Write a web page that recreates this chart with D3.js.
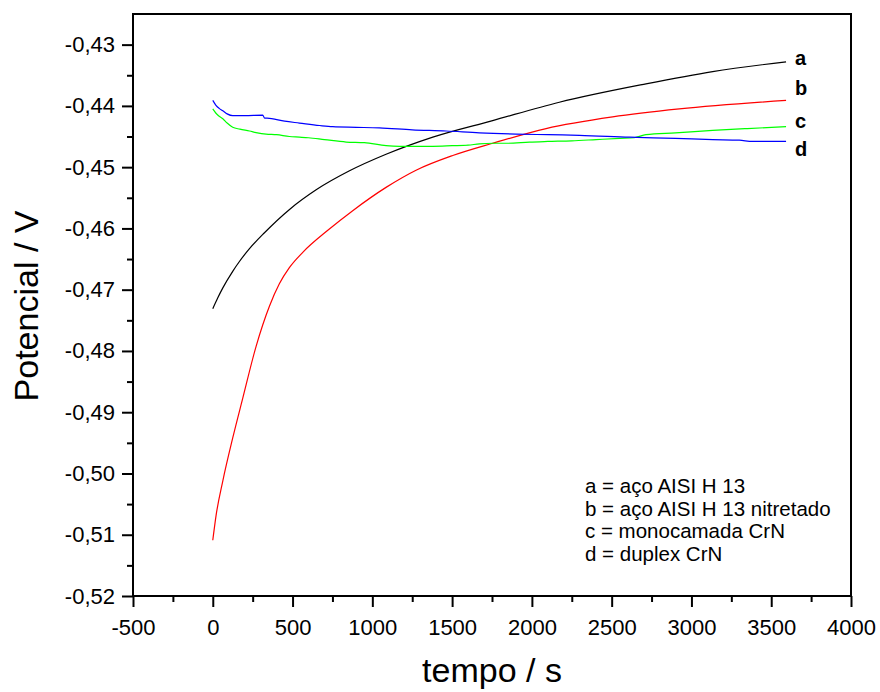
<!DOCTYPE html>
<html>
<head>
<meta charset="utf-8">
<script src="https://cdn.jsdelivr.net/npm/d3@7"></script>
<style>
  body { margin: 0; background: #fff; }
  text { font-family: "Liberation Sans", Arial, sans-serif; fill: #000; }
</style>
</head>
<body>
<div id="chart"></div>
<script>
// a = aço AISI H 13 (black)
const tempoA = [0, 30, 63, 125, 167, 230, 324, 481, 648, 857, 1086, 1379, 1754, 2172, 2715, 3133, 3593];
const potA = [-0.4731, -0.4714, -0.4697, -0.4670, -0.4654, -0.4633, -0.4607, -0.4569, -0.4537, -0.4506, -0.4479, -0.4451, -0.4424, -0.4394, -0.4364, -0.4344, -0.4328];

// b = aço AISI H 13 nitretado (red)
const tempoB = [0, 21, 63, 125, 188, 272, 355, 418, 480, 564, 721, 877, 1086, 1274, 1504, 1754, 2089, 2506, 2924, 3593];
const potB = [-0.5109, -0.5068, -0.5012, -0.4942, -0.4877, -0.4792, -0.4727, -0.4690, -0.4664, -0.4639, -0.4603, -0.4571, -0.4533, -0.4505, -0.4481, -0.4461, -0.4437, -0.4418, -0.4405, -0.4391];

// c = monocamada CrN (green)
const tempoC = [0, 20, 40, 63, 90, 125, 170, 230, 280, 334, 400, 480, 543, 600, 700, 836, 950, 1086, 1170, 1253, 1379, 1500, 1600, 1671, 1754, 1850, 1984, 2100, 2250, 2402, 2550, 2640, 2715, 2900, 3133, 3350, 3593];
const potC = [-0.4405, -0.4412, -0.4417, -0.4421, -0.4428, -0.4435, -0.4438, -0.4441, -0.4444, -0.4446, -0.4447, -0.4450, -0.4451, -0.4452, -0.4455, -0.4459, -0.4460, -0.4465, -0.4466, -0.4466, -0.4466, -0.4465, -0.4464, -0.4462, -0.4461, -0.4461, -0.4459, -0.4458, -0.4457, -0.4455, -0.4453, -0.4452, -0.4447, -0.4444, -0.4440, -0.4437, -0.4434];

// d = duplex CrN (blue)
const tempoD = [0, 20, 40, 63, 90, 125, 200, 313, 325, 340, 450, 543, 669, 752, 900, 1044, 1250, 1462, 1671, 1900, 2100, 2298, 2611, 2900, 3133, 3300, 3383, 3593];
const potD = [-0.4391, -0.4399, -0.4404, -0.4408, -0.4413, -0.4416, -0.4416, -0.4415, -0.4420, -0.4420, -0.4425, -0.4428, -0.4432, -0.4434, -0.4435, -0.4436, -0.4439, -0.4441, -0.4444, -0.4446, -0.4447, -0.4448, -0.4451, -0.4453, -0.4455, -0.4456, -0.4458, -0.4458];

const seriesNames = ["a", "b", "c", "d"];
const seriesColors = ["#000000", "#ff0000", "#00ff00", "#0000ff"];
const legendLines = ["a = aço AISI H 13", "b = aço AISI H 13 nitretado", "c = monocamada CrN", "d = duplex CrN"];

const xTicks = [-500, 0, 500, 1000, 1500, 2000, 2500, 3000, 3500, 4000];
const yTicks = [-0.52, -0.51, -0.50, -0.49, -0.48, -0.47, -0.46, -0.45, -0.44, -0.43];

const width = 880, height = 692;
const plotL = 133, plotR = 851, plotT = 14, plotB = 596;

const svg = d3.select("#chart").append("svg")
  .attr("width", width)
  .attr("height", height);

const x = d3.scaleLinear().domain([-500, 4000]).range([plotL, plotR]);
const y = d3.scaleLinear().domain([-0.52, -0.425]).range([plotB, plotT]);

const series = [
  tempoA.map((t, i) => [t, potA[i]]),
  tempoB.map((t, i) => [t, potB[i]]),
  tempoC.map((t, i) => [t, potC[i]]),
  tempoD.map((t, i) => [t, potD[i]])
];

// minor ticks
const xMinor = d3.range(-500, 4001, 250).filter(v => v % 500 !== 0);
const yMinor = yTicks.slice(1).map(v => v - 0.005);

svg.append("g")
  .attr("transform", `translate(0,${plotB})`)
  .call(d3.axisBottom(x).tickValues(xMinor).tickSize(6).tickFormat(""))
  .call(g => g.select(".domain").remove())
  .selectAll("line").attr("stroke-width", 2);

svg.append("g")
  .attr("transform", `translate(${plotL},0)`)
  .call(d3.axisLeft(y).tickValues(yMinor).tickSize(6).tickFormat(""))
  .call(g => g.select(".domain").remove())
  .selectAll("line").attr("stroke-width", 2);

// major ticks
const xAxis = svg.append("g")
  .attr("transform", `translate(0,${plotB})`)
  .call(d3.axisBottom(x).tickValues(xTicks).tickSize(11).tickPadding(12).tickFormat(d => String(d)));
xAxis.select(".domain").remove();
xAxis.selectAll("line").attr("stroke-width", 2);
xAxis.attr("font-family", null).attr("font-size", null);
xAxis.selectAll("text").style("font-size", "22px");

const yAxis = svg.append("g")
  .attr("transform", `translate(${plotL},0)`)
  .call(d3.axisLeft(y).tickValues(yTicks).tickSize(11).tickPadding(7).tickFormat(d => d.toFixed(2).replace(".", ",")));
yAxis.select(".domain").remove();
yAxis.selectAll("line").attr("stroke-width", 2);
yAxis.attr("font-family", null).attr("font-size", null);
yAxis.selectAll("text").style("font-size", "22px");

// frame
svg.append("rect")
  .attr("x", plotL).attr("y", plotT)
  .attr("width", plotR - plotL).attr("height", plotB - plotT)
  .attr("fill", "none").attr("stroke", "#000").attr("stroke-width", 2);

const line = d3.line().curve(d3.curveMonotoneX).x(d => x(d[0])).y(d => y(d[1]));

svg.append("g").selectAll("path")
  .data(series)
  .join("path")
  .attr("d", line)
  .attr("fill", "none")
  .attr("stroke", (d, i) => seriesColors[i])
  .attr("stroke-width", 1.2);

// end labels, nudged apart vertically like the original
const labelShift = [3, -5, 1, 15];
svg.append("g").selectAll("text")
  .data(series)
  .join("text")
  .attr("x", d => x(d[d.length - 1][0]) + 9)
  .attr("y", (d, i) => y(d[d.length - 1][1]) + labelShift[i])
  .style("font-size", "20px")
  .style("font-weight", "bold")
  .text((d, i) => seriesNames[i]);

// legend text
svg.append("g").selectAll("text")
  .data(legendLines)
  .join("text")
  .attr("x", 585)
  .attr("y", (d, i) => 493 + i * 22.7)
  .style("font-size", "20.5px")
  .text(d => d);

// axis titles
svg.append("text")
  .attr("x", 492)
  .attr("y", 682)
  .attr("text-anchor", "middle")
  .style("font-size", "34px")
  .text("tempo / s");

svg.append("text")
  .attr("transform", `translate(38,306) rotate(-90)`)
  .attr("text-anchor", "middle")
  .style("font-size", "34px")
  .text("Potencial / V");
</script>
</body>
</html>
